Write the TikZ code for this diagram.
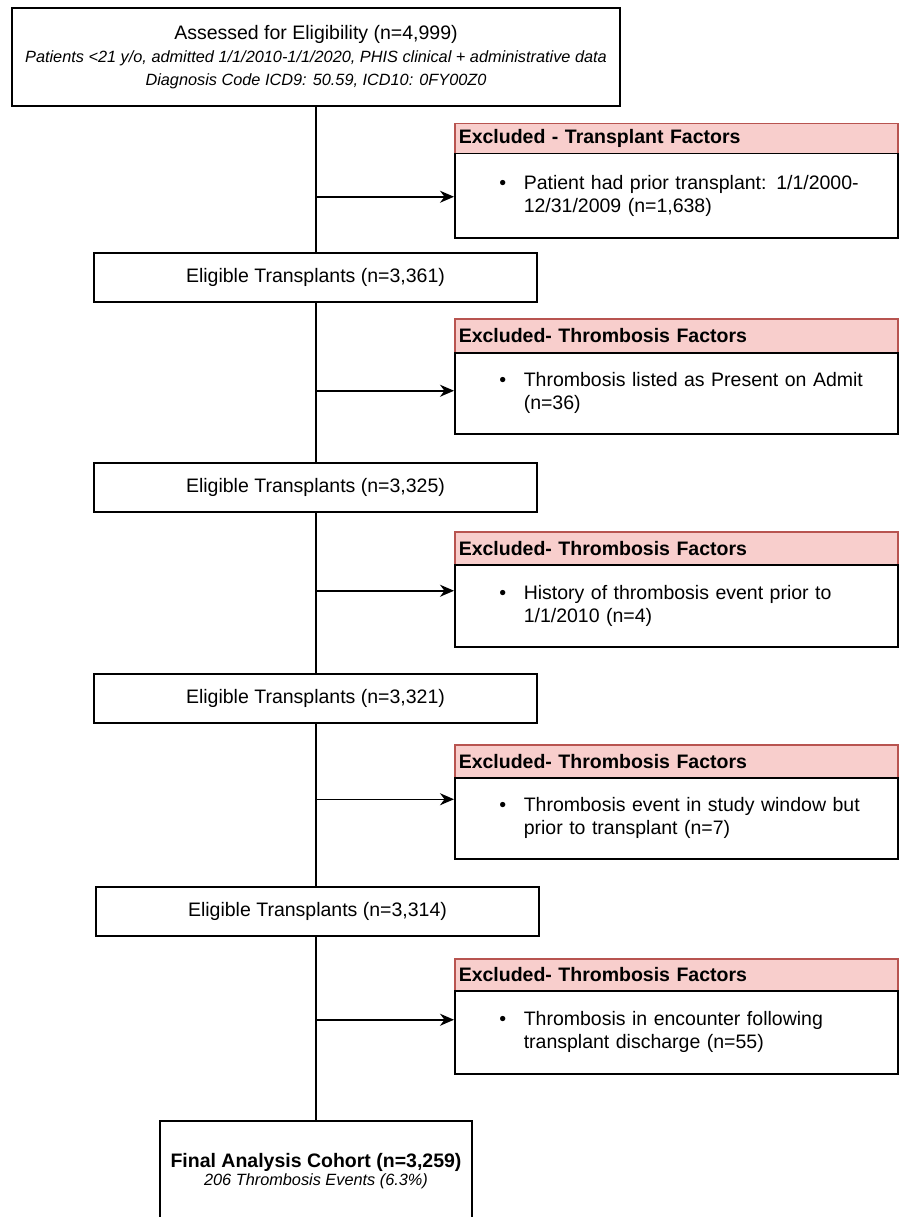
\documentclass[tikz,border=0pt]{standalone}
\usepackage{fontspec}
\setmainfont{Liberation Sans}
\usetikzlibrary{arrows.meta}
\definecolor{hdrfill}{HTML}{F8CECC}
\definecolor{hdrline}{HTML}{B85450}
\begin{document}
\begin{tikzpicture}[x=1pt,y=-1pt,
  every node/.style={font=\fontsize{19.5}{23}\selectfont, text=black},
  box/.style={draw=black, line width=1.5pt, fill=white, inner sep=0pt, align=center},
  hdr/.style={draw=hdrline, fill=hdrfill, line width=1.5pt, inner xsep=4pt, inner ysep=0pt,
    text width=435pt, minimum height=#1, anchor=north west, align=left,
    font=\fontsize{19.5}{23}\selectfont\bfseries},
  body/.style={draw=black, fill=white, line width=1.5pt, inner sep=0pt,
    text width=443pt, minimum height=#1, anchor=north west, align=left},
  conn/.style={draw=black, line width=1.5pt},
  arr/.style={conn, -{Stealth[length=14pt, width=12pt, inset=4.5pt]}}
]
\useasboundingbox (0,0) rectangle (899,1217);
\clip (0,0) rectangle (899,1217);

% top box
\node[box, minimum width=608, minimum height=98] (top) at (316,57)
  {Assessed for Eligibility (n=4,999)\\
   {\fontsize{16.3}{23}\selectfont\itshape Patients <21 y/o, admitted 1/1/2010-1/1/2020, PHIS clinical + administrative data}\\
   {\fontsize{16.3}{23}\selectfont\itshape Diagnosis Code ICD9: 50.59, ICD10: 0FY00Z0}};

% eligible boxes
\node[box, minimum width=443, minimum height=49] (e1) at (315.5,277.5) {Eligible Transplants (n=3,361)};
\node[box, minimum width=443, minimum height=49] (e2) at (315.5,487.5) {Eligible Transplants (n=3,325)};
\node[box, minimum width=443, minimum height=49] (e3) at (315.5,698.5) {Eligible Transplants (n=3,321)};
\node[box, minimum width=443, minimum height=49] (e4) at (317.5,911.5) {Eligible Transplants (n=3,314)};

% final box
\node[box, minimum width=312, minimum height=100] (fin) at (316,1171)
  {\textbf{Final Analysis Cohort (n=3,259)}\\[-4.5pt]
   {\fontsize{16.3}{23}\selectfont\itshape 206 Thrombosis Events (6.3\%)}};

% excluded boxes
\node[hdr=30] (x1h) at (454,123) {Excluded - Transplant Factors};
\node[body=84] (x1b) at (454,153)
  {\hspace*{44.6pt}\makebox[24.4pt][l]{\textbullet}Patient had prior transplant: 1/1/2000-\\
   \hspace*{69pt}12/31/2009 (n=1,638)};

\node[hdr=34] (x2h) at (454,318) {Excluded- Thrombosis Factors};
\node[body=81] (x2b) at (454,352)
  {\hspace*{44.6pt}\makebox[24.4pt][l]{\textbullet}Thrombosis listed as Present on Admit\\
   \hspace*{69pt}(n=36)};

\node[hdr=33] (x3h) at (454,531) {Excluded- Thrombosis Factors};
\node[body=82] (x3b) at (454,564)
  {\hspace*{44.6pt}\makebox[24.4pt][l]{\textbullet}History of thrombosis event prior to\\
   \hspace*{69pt}1/1/2010 (n=4)};

\node[hdr=33] (x4h) at (454,744) {Excluded- Thrombosis Factors};
\node[body=81] (x4b) at (454,777)
  {\hspace*{44.6pt}\makebox[24.4pt][l]{\textbullet}Thrombosis event in study window but\\
   \hspace*{69pt}prior to transplant (n=7)};

\node[hdr=32] (x5h) at (454,958) {Excluded- Thrombosis Factors};
\node[body=83] (x5b) at (454,990)
  {\hspace*{44.6pt}\makebox[24.4pt][l]{\textbullet}Thrombosis in encounter following\\
   \hspace*{69pt}transplant discharge (n=55)};

% trunk
\draw[conn] (top.south) -- (top.south |- e1.north);
\draw[conn] (top.south |- e1.south) -- (top.south |- e2.north);
\draw[conn] (top.south |- e2.south) -- (top.south |- e3.north);
\draw[conn] (top.south |- e3.south) -- (top.south |- e4.north);
\draw[conn] (top.south |- e4.south) -- (fin.north);

% branches
\draw[arr] (top.south) |- ([yshift=-1pt]x1b.west);
\draw[arr] (top.south |- e1.south) |- ([yshift=2.5pt]x2b.west);
\draw[arr] (top.south |- e2.south) |- ([yshift=15pt]x3b.west);
\draw[arr] (top.south |- e3.south) |- ([yshift=19pt]x4b.west);
\draw[arr] (top.south |- e4.south) |- ([yshift=12.5pt]x5b.west);
\end{tikzpicture}
\end{document}
